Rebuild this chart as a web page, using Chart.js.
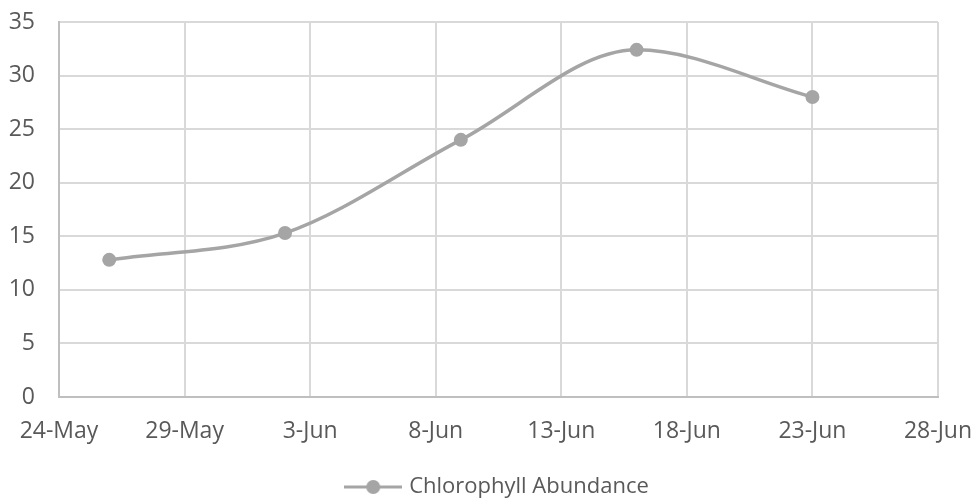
<!DOCTYPE html>
<html>
<head>
<meta charset="utf-8">
<script src="https://cdn.jsdelivr.net/npm/chart.js@4"></script>
<style>
  html, body { margin: 0; padding: 0; background: #fff; }
  #wrap { width: 979px; height: 499px; }
</style>
</head>
<body>
<div id="wrap"><canvas id="chart" width="979" height="499"></canvas></div>
<script>
// sampling dates and chlorophyll readings
const sampleDates = ["2023-05-26", "2023-06-02", "2023-06-09", "2023-06-16", "2023-06-23"];
const chlorophyll = [12.8, 15.3, 24.0, 32.4, 28.0];

// axis settings
const startDate = "2023-05-24";
const xTickLabels = ["24-May", "29-May", "3-Jun", "8-Jun", "13-Jun", "18-Jun", "23-Jun", "28-Jun"];
const yTicks = [0, 5, 10, 15, 20, 25, 30, 35];

const DAY = 86400000;
function dayOffset(d) {
  return (Date.parse(d) - Date.parse(startDate)) / DAY;
}

const points = sampleDates.map((d, i) => ({ x: dayOffset(d), y: chlorophyll[i] }));

// legend marker: line with a dot in the middle
function legendMarker() {
  const c = document.createElement("canvas");
  c.width = 58;
  c.height = 16;
  const g = c.getContext("2d");
  g.strokeStyle = "#A5A5A5";
  g.lineWidth = 3;
  g.beginPath();
  g.moveTo(0, 8);
  g.lineTo(58, 8);
  g.stroke();
  g.fillStyle = "#A5A5A5";
  g.beginPath();
  g.arc(29, 8, 7, 0, Math.PI * 2);
  g.fill();
  return c;
}

const font = { family: "'Open Sans', sans-serif", size: 23 };

// center the legend under the plot area, like Excel does
const centerLegend = {
  id: "centerLegend",
  afterLayout(chart) {
    const lg = chart.legend;
    lg.left = chart.chartArea.left;
    lg.right = chart.chartArea.right;
  },
};

new Chart(document.getElementById("chart").getContext("2d"), {
  type: "line",
  data: {
    datasets: [
      {
        label: "Chlorophyll Abundance",
        data: points,
        borderColor: "#A5A5A5",
        backgroundColor: "#A5A5A5",
        borderWidth: 3.5,
        pointRadius: 7,
        pointHoverRadius: 7,
        pointBackgroundColor: "#A5A5A5",
        pointBorderWidth: 0,
        cubicInterpolationMode: "monotone",
      },
    ],
  },
  options: {
    responsive: false,
    animation: false,
    layout: { padding: { left: 0, right: 41, top: 22, bottom: -9 } },
    scales: {
      x: {
        type: "linear",
        min: 0,
        max: 35,
        afterBuildTicks: (axis) => {
          axis.ticks = xTickLabels.map((_, i) => ({ value: i * 5 }));
        },
        afterFit: (axis) => {
          axis.height = 79;
          axis.paddingLeft = 0;
          axis.paddingRight = 0;
        },
        ticks: {
          color: "#595959",
          font: font,
          padding: 21,
          maxRotation: 0,
          autoSkip: false,
          callback: (v) => xTickLabels[Math.round(v / 5)],
        },
        grid: { color: "#D9D9D9", lineWidth: 2, drawTicks: false },
        border: { color: "#BFBFBF", width: 2 },
      },
      y: {
        min: 0,
        max: 35,
        afterBuildTicks: (axis) => {
          axis.ticks = yTicks.map((v) => ({ value: v }));
        },
        afterFit: (axis) => {
          axis.width = 59;
          axis.paddingTop = 0;
          axis.paddingBottom = 0;
        },
        ticks: { color: "#595959", font: font, padding: 24 },
        grid: { color: "#D9D9D9", lineWidth: 2, drawTicks: false },
        border: { color: "#BFBFBF", width: 2 },
      },
    },
    plugins: {
      legend: {
        position: "bottom",
        labels: {
          color: "#595959",
          font: { family: "'Open Sans', sans-serif", size: 22 },
          padding: 0,
          usePointStyle: true,
          pointStyleWidth: 50,
          generateLabels: (chart) => [
            {
              text: chart.data.datasets[0].label,
              pointStyle: legendMarker(),
              fillStyle: "#A5A5A5",
              strokeStyle: "#A5A5A5",
              lineWidth: 0,
              fontColor: "#595959",
              datasetIndex: 0,
            },
          ],
        },
      },
      tooltip: { enabled: false },
    },
  },
  plugins: [centerLegend],
});
</script>
</body>
</html>
